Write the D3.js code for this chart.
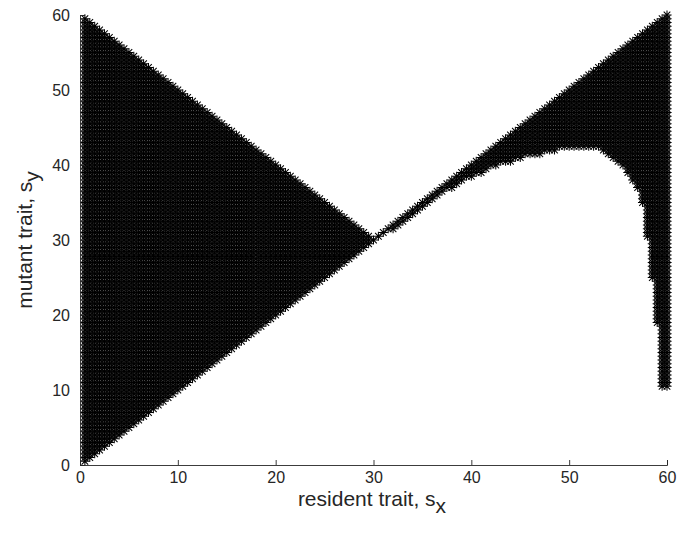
<!DOCTYPE html>
<html>
<head>
<meta charset="utf-8">
<script src="https://cdn.jsdelivr.net/npm/d3@7"></script>
<style>
  html, body { margin: 0; padding: 0; background: #fff; }
  svg { display: block; }
  text { font-family: "Liberation Sans", Arial, Helvetica, sans-serif; fill: #262626; }
</style>
</head>
<body>
<svg id="chart" width="681" height="538"></svg>
<script>
// Sampling grid of resident (x) and mutant (y) trait values
const gridStep = 0.5;
const gridMin = 0.5;
const gridMax = 60;

// Axis ticks
const xTicks = [0, 10, 20, 30, 40, 50, 60];
const yTicks = [0, 10, 20, 30, 40, 50, 60];

// Invasion region 1 (left wedge): mutant invades when
// resident <= y and y <= wedgeTop(resident)
const wedgeTopX = [0, 30];
const wedgeTopY = [60, 30];

// Invasion region 2 (band right of the singular point):
// bandLow(resident) <= y <= resident
const bandLowX = [30, 32, 34, 36, 38, 40, 42, 44, 46, 48, 50, 51, 52, 53, 54, 55, 56, 57, 57.5, 58, 58.5, 59, 59.5, 60];
const bandLowY = [30, 31.5, 33.5, 35.3, 37, 38.4, 39.6, 40.5, 41.2, 41.8, 42.3, 42.5, 42.4, 42.1, 41.5, 40.5, 39, 36.8, 35, 30.5, 25, 19, 10.5, 10.5];

const x = d3.scaleLinear().domain([0, 60]).range([80, 667]);
const y = d3.scaleLinear().domain([0, 60]).range([465, 15]);

const wedgeTop = d3.scaleLinear().domain(wedgeTopX).range(wedgeTopY).clamp(true);
const bandLow = d3.scaleLinear().domain(bandLowX).range(bandLowY).clamp(true);

const eps = 1e-9;
function invades(sx, sy) {
  if (sx <= 30 + eps && sy >= sx - eps && sy <= wedgeTop(sx) + eps) return true;
  if (sx >= 30 - eps && sy <= sx + eps && sy >= bandLow(sx) - eps) return true;
  return false;
}

const values = d3.range(gridMin, gridMax + eps, gridStep);
const points = [];
for (const sx of values) {
  for (const sy of values) {
    if (invades(sx, sy)) points.push([sx, sy]);
  }
}

const svg = d3.select("#chart");

// asterisk marker: plus + cross
const r = 4.6, d = 3.3;
const star = `M${-r},0H${r}M0,${-r}V${r}M${-d},${-d}L${d},${d}M${-d},${d}L${d},${-d}`;

svg.append("g")
  .selectAll("path")
  .data(points)
  .join("path")
  .attr("d", star)
  .attr("transform", p => `translate(${x(p[0])},${y(p[1])})`)
  .attr("fill", "none")
  .attr("stroke", "#000")
  .attr("stroke-width", 1.05);

// axes
const axisColor = "#262626";
const xAxis = svg.append("g")
  .attr("transform", `translate(0,${y(0)})`)
  .call(d3.axisBottom(x).tickValues(xTicks).tickSize(-5).tickPadding(7).tickFormat(d3.format("d")));
const yAxis = svg.append("g")
  .attr("transform", `translate(${x(0)},0)`)
  .call(d3.axisLeft(y).tickValues(yTicks).tickSize(-5).tickPadding(10).tickFormat(d3.format("d")));

[xAxis, yAxis].forEach(g => {
  g.select(".domain").attr("stroke", axisColor).attr("stroke-width", 0.9);
  g.selectAll(".tick line").attr("stroke", axisColor).attr("stroke-width", 0.9);
  g.selectAll(".tick text").attr("fill", axisColor).style("font-size", "16px")
    .style("font-family", "'Liberation Sans', Arial, sans-serif");
});

// axis titles
const xt = svg.append("text")
  .attr("x", 372).attr("y", 506)
  .attr("text-anchor", "middle")
  .style("font-size", "21px");
xt.append("tspan").text("resident trait, s");
xt.append("tspan").attr("dy", 7).text("x");

const yt = svg.append("text")
  .attr("transform", "translate(32,240) rotate(-90)")
  .attr("text-anchor", "middle")
  .style("font-size", "21px");
yt.append("tspan").text("mutant trait, s");
yt.append("tspan").attr("dy", 7).text("y");
</script>
</body>
</html>
